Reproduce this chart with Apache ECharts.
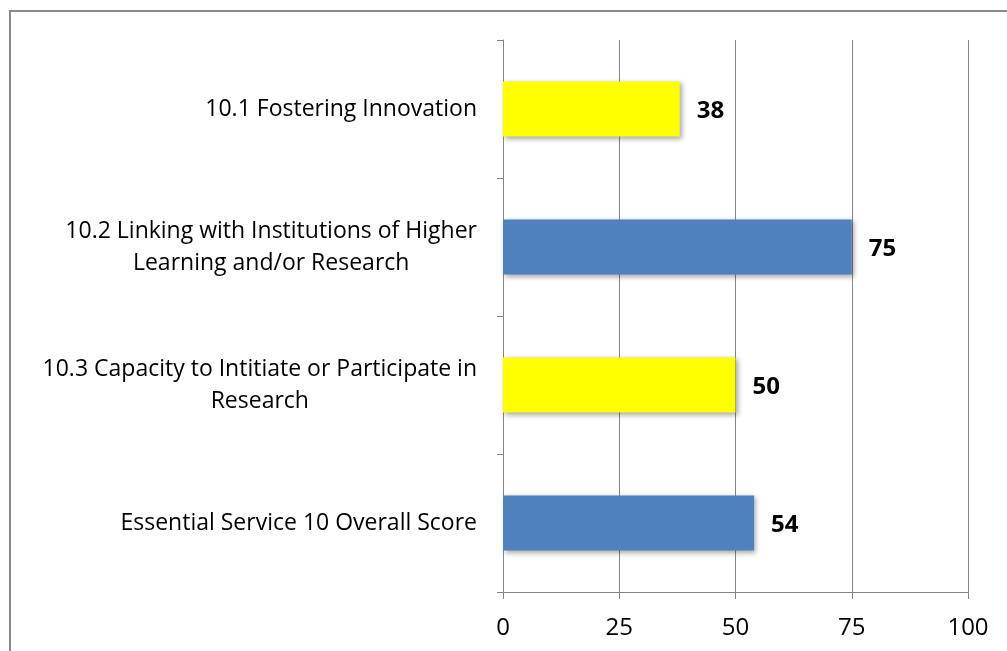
<!DOCTYPE html>
<html>
<head>
<meta charset="utf-8">
<script src="https://cdn.jsdelivr.net/npm/echarts@6/dist/echarts.min.js"></script>
<style>
  html, body { margin: 0; padding: 0; background: #fff; }
  #chart { width: 1007px; height: 651px; }
</style>
</head>
<body>
<div id="chart"></div>
<script>
const categories = [
  "10.1 Fostering Innovation",
  "10.2 Linking with Institutions of Higher\nLearning and/or Research",
  "10.3 Capacity to Intitiate or Participate in\nResearch",
  "Essential Service 10 Overall Score"
];
const scores = [38, 75, 50, 54];
const barColors = ["#FFFF00", "#4F81BD", "#FFFF00", "#4F81BD"];
const xTicks = [0, 25, 50, 75, 100];

const fontFamily = "'Open Sans', 'Noto Sans', sans-serif";
const gray = "#868686";

let chart = echarts.init(document.getElementById("chart"));

let option = {
  animation: false,
  textStyle: { fontFamily: fontFamily },
  graphic: [
    {
      type: "rect",
      shape: { x: 10, y: 11, width: 1200, height: 800 },
      style: { fill: "none", stroke: "#888888", lineWidth: 2 },
      z: -1
    }
  ],
  grid: { left: 503, right: 39, top: 40, bottom: 59 },
  xAxis: {
    type: "value",
    min: xTicks[0],
    max: xTicks[xTicks.length - 1],
    interval: 25,
    axisLine: { show: true, lineStyle: { color: gray, width: 1 } },
    axisTick: { show: true, length: 7, lineStyle: { color: gray } },
    axisLabel: { color: "#000", fontSize: 24, margin: 24, fontFamily: fontFamily },
    splitLine: { show: true, lineStyle: { color: gray, width: 1 } }
  },
  yAxis: {
    type: "category",
    inverse: true,
    data: categories,
    axisLine: { show: true, lineStyle: { color: gray, width: 1 } },
    axisTick: { show: true, length: 6, lineStyle: { color: gray } },
    axisLabel: {
      color: "#000",
      fontSize: 23,
      margin: 26,
      align: "right",
      fontFamily: fontFamily,
      formatter: function(val) {
        return val.split("\n").map(function(s) { return "{c|" + s + "}"; }).join("\n");
      },
      rich: {
        c: { align: "center", fontSize: 23, lineHeight: 32, color: "#000", fontFamily: fontFamily }
      }
    }
  },
  series: [
    {
      type: "bar",
      barWidth: "40%",
      data: scores.map(function(v, i) {
        return { value: v, itemStyle: { color: barColors[i] } };
      }),
      itemStyle: {
        shadowColor: "rgba(0,0,0,0.35)",
        shadowBlur: 5,
        shadowOffsetX: 2,
        shadowOffsetY: 2
      },
      label: {
        show: true,
        position: "right",
        distance: 17,
        offset: [0, 2],
        color: "#000",
        fontSize: 24,
        fontWeight: "bold",
        fontFamily: fontFamily
      }
    }
  ]
};

chart.setOption(option);
</script>
</body>
</html>
